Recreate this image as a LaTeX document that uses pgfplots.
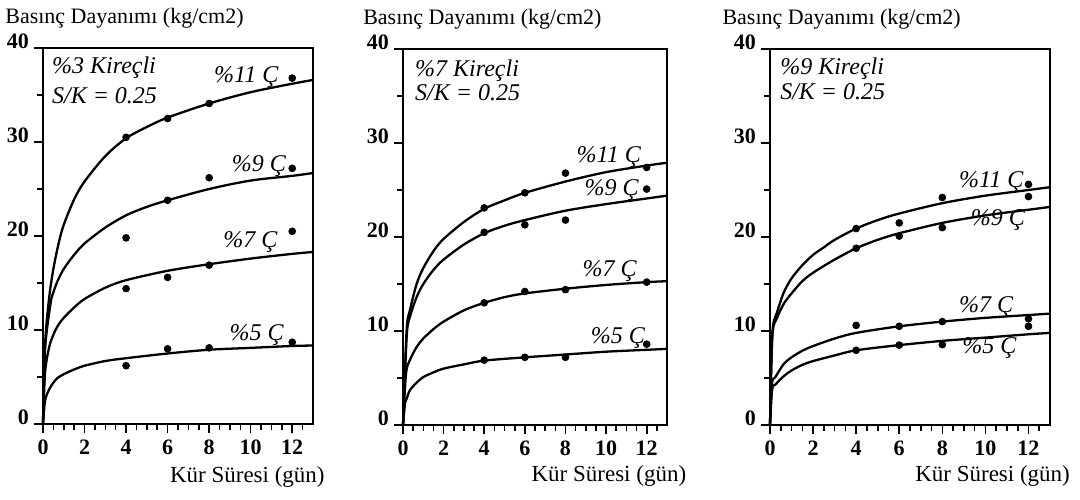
\documentclass[border=0pt]{standalone}
\usepackage{pgfplots}
\pgfplotsset{compat=1.18}
\usepackage{fontspec}
\setmainfont{Liberation Serif}

\newcommand\lblfont{\fontsize{12}{14}\selectfont\itshape}
\newcommand\axfont{\fontsize{11.5}{13}\selectfont}
\newcommand\ttlfont{\fontsize{11}{13}\selectfont}

\pgfplotsset{
  panel/.style={
    scale only axis,
    height=188pt,
    xmin=0, xmax=13, ymin=0, ymax=40,
    xtick={0,2,...,12}, ytick={0,10,...,40},
    minor xtick={0.5,1,...,12.5}, minor ytick={5,15,25,35},
    tick pos=left,
    tick align=outside,
    major tick length=4.5pt, minor tick length=3pt,
    axis line style={line width=1pt},
    every tick/.style={black, line width=0.8pt},
    /pgf/number format/assume math mode=true,
    ticklabel style={font=\fontsize{11}{13}\selectfont\bfseries},
    yticklabel style={anchor=base east, xshift=1pt},
    clip=false,
  },
  curve/.style={black, line width=1.15pt, smooth, no markers},
  pts/.style={black, only marks, mark=*, mark size=1.7pt},
}

\begin{document}
\begin{tikzpicture}
\useasboundingbox (0,0) rectangle (540pt,249.5pt);

% panel 1
\begin{axis}[panel, width=135pt, at={(21.5pt,37.5pt)}, anchor=south west]
\addplot[curve] coordinates {(0,0) (0.1,8.5) (0.3,13.5) (0.5,16.5) (0.75,19.2) (1,21.2) (1.5,23.9) (2,25.8) (3,28.5) (4,30.4) (5,31.6) (6,32.6) (8,34.1) (10,35.3) (12,36.2) (13,36.6)};
\addplot[curve] coordinates {(0,0) (0.1,8) (0.37,12.9) (0.5,14.0) (0.7,15.2) (1,16.5) (1.5,18.0) (2,19.2) (3,20.9) (4,22.2) (5,23.1) (6,23.8) (8,25.0) (10,25.9) (12,26.4) (13,26.7)};
\addplot[curve] coordinates {(0,0) (0.1,5.5) (0.3,8.2) (0.5,9.5) (0.7,10.4) (1,11.3) (1.5,12.4) (2,13.3) (3,14.5) (4,15.3) (6,16.3) (8,17.0) (10,17.6) (12,18.1) (13,18.3)};
\addplot[curve] coordinates {(0,0) (0.1,2.5) (0.3,3.7) (0.5,4.4) (0.7,4.9) (1,5.3) (1.5,5.8) (2,6.2) (3,6.7) (4,7.0) (6,7.5) (8,7.9) (10,8.1) (12,8.3) (13,8.35)};
\addplot[pts] coordinates {(4,30.5) (6,32.5) (8,34.1) (12,36.8)};
\addplot[pts] coordinates {(4,19.8) (6,23.8) (8,26.2) (12,27.2)};
\addplot[pts] coordinates {(4,14.4) (6,15.6) (8,16.9) (12,20.5)};
\addplot[pts] coordinates {(4,6.2) (6,8.0) (8,8.1) (12,8.7)};
\node[anchor=west, font=\lblfont] at (axis cs:0.1,37.9) {\%3 Kireçli};
\node[anchor=west, font=\lblfont] at (axis cs:0.1,34.9) {S/K = 0.25};
\node[anchor=west, font=\lblfont] at (axis cs:7.9,36.9) {\%11 Ç};
\node[anchor=west, font=\lblfont] at (axis cs:8.75,27.4) {\%9 Ç};
\node[anchor=west, font=\lblfont] at (axis cs:8.35,19.4) {\%7 Ç};
\node[anchor=west, font=\lblfont] at (axis cs:8.65,9.5) {\%5 Ç};
\node[font=\ttlfont, anchor=west, inner xsep=0pt] at (axis description cs:-0.141,1.08) {Basınç Dayanımı (kg/cm2)};
\node[font=\axfont] at (axis description cs:0.757,-0.141) {Kür Süresi (gün)};
\end{axis}

% panel 2
\begin{axis}[panel, width=132pt, at={(201.5pt,37pt)}, anchor=south west]
\addplot[curve] coordinates {(0,0) (0.18,10.1) (0.34,12.2) (0.67,15.0) (1,16.7) (1.5,18.5) (2,19.8) (3,21.6) (4,23.0) (5,23.9) (6,24.7) (8,25.9) (10,26.9) (12,27.6) (13,27.9)};
\addplot[curve] coordinates {(0,0) (0.18,9.4) (0.34,11.5) (0.67,13.6) (1,15.0) (1.5,16.5) (2,17.6) (3,19.2) (4,20.4) (5,21.2) (6,21.8) (8,22.8) (10,23.5) (12,24.1) (13,24.4)};
\addplot[curve] coordinates {(0,0) (0.15,5.5) (0.34,6.9) (0.67,8.3) (1,9.2) (1.5,10.2) (2,11.0) (3,12.2) (4,13.0) (5,13.6) (6,14.0) (8,14.5) (10,14.9) (12,15.2) (13,15.3)};
\addplot[curve] coordinates {(0,0) (0.1,2.3) (0.18,2.8) (0.34,3.7) (0.67,4.5) (1,5.1) (1.5,5.6) (2,6.0) (3,6.45) (4,6.85) (6,7.2) (8,7.5) (10,7.8) (12,8.0) (13,8.1)};
\addplot[pts] coordinates {(4,23.1) (6,24.7) (8,26.8) (12,27.4)};
\addplot[pts] coordinates {(4,20.5) (6,21.3) (8,21.8) (12,25.1)};
\addplot[pts] coordinates {(4,13.0) (6,14.2) (8,14.4) (12,15.2)};
\addplot[pts] coordinates {(4,6.9) (6,7.2) (8,7.2) (12,8.6)};
\node[anchor=west, font=\lblfont] at (axis cs:0.25,37.7) {\%7 Kireçli};
\node[anchor=west, font=\lblfont] at (axis cs:0.25,35.3) {S/K = 0.25};
\node[anchor=west, font=\lblfont] at (axis cs:8.2,28.5) {\%11 Ç};
\node[anchor=west, font=\lblfont] at (axis cs:8.6,25.0) {\%9 Ç};
\node[anchor=west, font=\lblfont] at (axis cs:8.5,16.4) {\%7 Ç};
\node[anchor=west, font=\lblfont] at (axis cs:8.9,9.3) {\%5 Ç};
\node[font=\ttlfont, anchor=west, inner xsep=0pt] at (axis description cs:-0.152,1.08) {Basınç Dayanımı (kg/cm2)};
\node[font=\axfont] at (axis description cs:0.78,-0.135) {Kür Süresi (gün)};
\end{axis}

% panel 3
\begin{axis}[panel, width=140pt, at={(385pt,37pt)}, anchor=south west]
\addplot[curve] coordinates {(0,0) (0.11,9.8) (0.33,12.0) (0.64,14.1) (1,15.6) (1.5,17.0) (2,18.1) (2.5,18.9) (3,19.7) (4,20.9) (5,21.8) (6,22.5) (8,23.6) (10,24.4) (12,25.0) (13,25.3)};
\addplot[curve] coordinates {(0,0) (0.11,9.5) (0.33,11.4) (0.64,12.9) (1,14.0) (1.5,15.3) (2,16.2) (3,17.6) (4,18.8) (5,19.7) (6,20.4) (8,21.5) (10,22.3) (12,22.9) (13,23.2)};
\addplot[curve] coordinates {(0,0) (0.09,4.4) (0.25,5.1) (0.64,6.5) (1,7.2) (1.5,7.9) (2,8.4) (3,9.2) (4,9.8) (6,10.5) (8,11.0) (10,11.4) (12,11.7) (13,11.85)};
\addplot[curve] coordinates {(0,0) (0.1,3.8) (0.25,4.3) (0.64,5.2) (1,5.8) (1.5,6.4) (2,6.8) (3,7.4) (4,7.95) (6,8.5) (8,8.95) (10,9.3) (12,9.65) (13,9.8)};
\addplot[pts] coordinates {(4,20.9) (6,21.5) (8,24.2) (12,25.6)};
\addplot[pts] coordinates {(4,18.8) (6,20.1) (8,21.0) (12,24.3)};
\addplot[pts] coordinates {(4,10.6) (6,10.5) (8,11.0) (12,11.3)};
\addplot[pts] coordinates {(4,7.95) (6,8.5) (8,8.55) (12,10.5)};
\node[anchor=west, font=\lblfont] at (axis cs:0.15,37.9) {\%9 Kireçli};
\node[anchor=west, font=\lblfont] at (axis cs:0.15,35.5) {S/K = 0.25};
\node[anchor=west, font=\lblfont] at (axis cs:8.45,25.9) {\%11 Ç};
\node[anchor=west, font=\lblfont] at (axis cs:9.0,21.8) {\%9 Ç};
\node[anchor=west, font=\lblfont] at (axis cs:8.45,12.6) {\%7 Ç};
\node[anchor=west, font=\lblfont] at (axis cs:8.6,8.2) {\%5 Ç};
\node[font=\ttlfont, anchor=west, inner xsep=0pt] at (axis description cs:-0.171,1.08) {Basınç Dayanımı (kg/cm2)};
\node[font=\axfont] at (axis description cs:0.795,-0.135) {Kür Süresi (gün)};
\end{axis}
\end{tikzpicture}
\end{document}
